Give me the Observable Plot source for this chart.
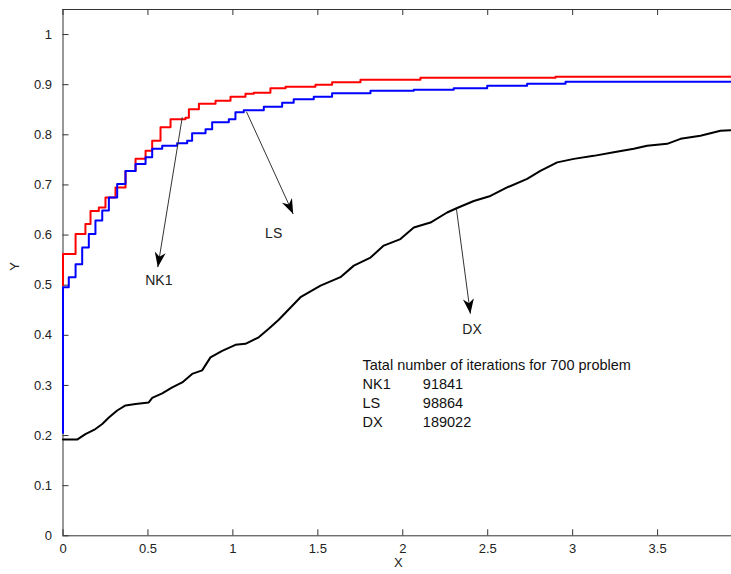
<!DOCTYPE html>
<html>
<head>
<meta charset="utf-8">
<script src="https://cdn.jsdelivr.net/npm/d3@7"></script>
<script src="https://cdn.jsdelivr.net/npm/@observablehq/plot@0.6"></script>
<style>
  html, body { margin: 0; padding: 0; background: #fff; }
  #chart { width: 731px; height: 574px; overflow: hidden; }
</style>
</head>
<body>
<div id="chart"></div>
<script>
// ---- data ----
const xTicks = [0, 0.5, 1, 1.5, 2, 2.5, 3, 3.5];
const yTicks = [0, 0.1, 0.2, 0.3, 0.4, 0.5, 0.6, 0.7, 0.8, 0.9, 1];

const nk1X = [0, 0, 0.074, 0.132, 0.162, 0.211, 0.25, 0.309, 0.368, 0.427, 0.486, 0.525, 0.574, 0.633, 0.721, 0.741, 0.80, 0.898, 0.986, 1.074, 1.123, 1.221, 1.31, 1.486, 1.584, 1.751, 2.104, 2.899, 3.935];
const nk1Y = [0.5, 0.562, 0.602, 0.622, 0.648, 0.655, 0.675, 0.695, 0.728, 0.752, 0.768, 0.788, 0.815, 0.831, 0.834, 0.851, 0.862, 0.868, 0.876, 0.882, 0.884, 0.893, 0.896, 0.900, 0.905, 0.910, 0.914, 0.916, 0.916];

const lsX = [0, 0, 0.034, 0.074, 0.113, 0.152, 0.191, 0.231, 0.27, 0.319, 0.368, 0.427, 0.486, 0.525, 0.584, 0.672, 0.731, 0.76, 0.839, 0.878, 0.976, 1.015, 1.064, 1.182, 1.29, 1.358, 1.476, 1.584, 1.81, 2.065, 2.30, 2.497, 2.732, 2.958, 3.935];
const lsY = [0.205, 0.496, 0.516, 0.542, 0.575, 0.602, 0.629, 0.649, 0.675, 0.702, 0.728, 0.742, 0.755, 0.772, 0.778, 0.783, 0.788, 0.803, 0.811, 0.825, 0.831, 0.845, 0.849, 0.856, 0.864, 0.871, 0.876, 0.883, 0.888, 0.890, 0.893, 0.898, 0.902, 0.906, 0.906];

const dxX = [0, 0.083, 0.132, 0.191, 0.231, 0.27, 0.319, 0.368, 0.427, 0.505, 0.525, 0.584, 0.643, 0.702, 0.76, 0.819, 0.868, 0.937, 1.015, 1.074, 1.152, 1.211, 1.27, 1.398, 1.516, 1.633, 1.712, 1.81, 1.888, 1.986, 2.065, 2.163, 2.261, 2.32, 2.418, 2.516, 2.614, 2.732, 2.81, 2.909, 3.007, 3.124, 3.242, 3.36, 3.438, 3.556, 3.635, 3.752, 3.87, 3.929];
const dxY = [0.192, 0.192, 0.203, 0.213, 0.223, 0.236, 0.25, 0.26, 0.263, 0.266, 0.275, 0.284, 0.296, 0.306, 0.323, 0.33, 0.356, 0.369, 0.381, 0.383, 0.396, 0.413, 0.431, 0.476, 0.499, 0.516, 0.539, 0.555, 0.579, 0.592, 0.615, 0.625, 0.645, 0.654, 0.668, 0.678, 0.695, 0.712, 0.728, 0.745, 0.752, 0.758, 0.765, 0.772, 0.778, 0.782, 0.792, 0.798, 0.808, 0.809];

// annotation arrows (start on curve -> tip) and their labels
const arrowNames = ["NK1", "LS", "DX"];
const arrowX1 = [0.702, 1.08, 2.316];
const arrowY1 = [0.835, 0.846, 0.652];
const arrowX2 = [0.558, 1.355, 2.398];
const arrowY2 = [0.536, 0.642, 0.443];
const labelX = [0.564, 1.24, 2.408];
const labelY = [0.509, 0.603, 0.411];

// iterations note
const noteNames = ["Tatal number of iterations for 700 problem", "NK1", "LS", "DX"];
const noteValues = ["", "91841", "98864", "189022"];
const noteY = [0.3395, 0.303, 0.2644, 0.2265];
const noteX = 1.763;
const noteValueX = 2.118;

// ---- build tables ----
const toPts = (xs, ys) => xs.map((x, i) => ({x, y: ys[i]}));
const nk1 = toPts(nk1X, nk1Y);
const ls = toPts(lsX, lsY);
const dx = toPts(dxX, dxY);
const arrows = arrowNames.map((n, i) => ({n, x1: arrowX1[i], y1: arrowY1[i], x2: arrowX2[i], y2: arrowY2[i], lx: labelX[i], ly: labelY[i]}));
const notes = noteNames.map((n, i) => ({n, v: noteValues[i], y: noteY[i]}));

const W = 731, H = 574;
const mL = 62.5, mR = 0, mT = 9, mB = 38.7;
const innerW = W - mL - mR, innerH = H - mT - mB;
const tick = 6;
const axisColor = "#333";
const fmt = d => String(+d.toFixed(2));

function dart(color, context) {
  const doc = (context && context.document) || document;
  const m = d3.select(doc.createElementNS("http://www.w3.org/2000/svg", "marker"))
    .attr("viewBox", "-16 -7 18 14")
    .attr("markerWidth", 18).attr("markerHeight", 14)
    .attr("markerUnits", "userSpaceOnUse")
    .attr("orient", "auto")
    .attr("refX", 0).attr("refY", 0);
  m.append("path").attr("d", "M0,0L-15,-5.5L-10.5,0L-15,5.5Z").attr("fill", "#000").attr("stroke", "none");
  return m.node();
}

function build(marker) {
  return Plot.plot({
    width: W, height: H,
    marginLeft: mL, marginRight: mR, marginTop: mT, marginBottom: mB,
    style: {fontFamily: "'Liberation Sans', Arial, Helvetica, sans-serif", fontSize: "13px", background: "#fff", color: "#222", overflow: "visible"},
    x: {domain: [0, 3.935]},
    y: {domain: [0, 1.05]},
    marks: [
      // frame lines
      Plot.ruleY([0], {stroke: axisColor}),
      Plot.ruleY([1.05], {stroke: axisColor}),
      Plot.ruleX([0], {stroke: axisColor}),
      // inward ticks
      Plot.ruleX(xTicks, {x: d => d, stroke: axisColor, insetTop: innerH - tick}),
      Plot.ruleX(xTicks, {x: d => d, stroke: axisColor, insetBottom: innerH - tick}),
      Plot.ruleY(yTicks, {y: d => d, stroke: axisColor, insetRight: innerW - tick}),
      // tick labels
      Plot.axisX({ticks: xTicks, tickSize: 0, tickPadding: 8, tickFormat: fmt, label: null, fontSize: 13, fill: "#222"}),
      Plot.axisY({ticks: yTicks, tickSize: 0, tickPadding: 11, tickFormat: fmt, label: null, fontSize: 13, fill: "#222"}),
      // axis titles
      Plot.text(["X"], {text: d => d, frameAnchor: "bottom", dy: 31, dx: 1, fontSize: 13, fill: "#222"}),
      Plot.text(["Y"], {text: d => d, frameAnchor: "left", dx: -48, dy: -2, rotate: -90, fontSize: 13, fill: "#222"}),
      // curves
      Plot.line(nk1, {x: "x", y: "y", stroke: "#ff0000", strokeWidth: 2, curve: "step-after"}),
      Plot.line(ls, {x: "x", y: "y", stroke: "#0000ff", strokeWidth: 2, curve: "step-after"}),
      Plot.line(dx, {x: "x", y: "y", stroke: "#000000", strokeWidth: 2, curve: "linear"}),
      // arrows
      Plot.link(arrows, {x1: "x1", y1: "y1", x2: "x2", y2: "y2", stroke: "#333", strokeWidth: 1, markerEnd: marker}),
      Plot.text(arrows, {x: "lx", y: "ly", text: "n", fontSize: 14, fill: "#222"}),
      // note
      Plot.text(notes, {x: () => noteX, y: "y", text: "n", textAnchor: "start", fontSize: 14.5, fill: "#111"}),
      Plot.text(notes, {x: () => noteValueX, y: "y", text: "v", textAnchor: "start", fontSize: 14.5, fill: "#111"})
    ]
  });
}

let chart;
try { chart = build(dart); } catch (e) { chart = build("arrow"); }
document.getElementById("chart").append(chart);
</script>
</body>
</html>
